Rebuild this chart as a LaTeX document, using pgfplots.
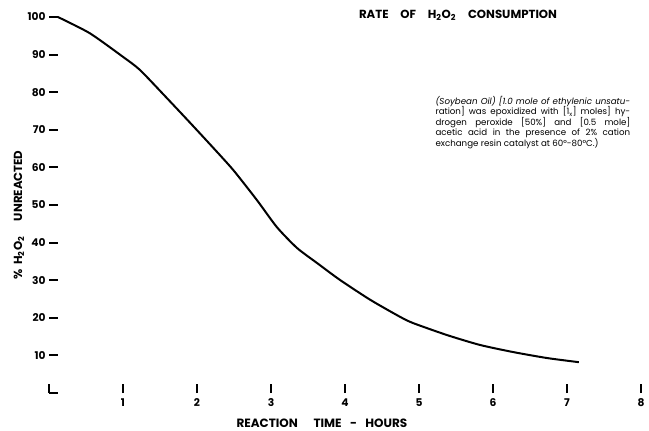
\documentclass[border=0pt]{standalone}
\usepackage{fontspec}
\setmainfont{Poppins}
\usepackage{pgfplots}
\pgfplotsset{compat=1.18}
\begin{document}
\begin{tikzpicture}[x=0.75pt,y=0.75pt]
\begin{axis}[
  at={(0,0)}, anchor=south west,
  scale only axis, width=444pt, height=282pt,
  xmin=0, xmax=8, ymin=0, ymax=100,
  enlargelimits=false,
  axis lines*=left,
  axis line style={draw=none},
  xtick={0,1,2,3,4,5,6,7,8},
  xticklabels={{},1,2,3,4,5,6,7,8},
  ytick={0,10,20,30,40,50,60,70,80,90,100},
  yticklabels={{},10,20,30,40,50,60,70,80,90,100},
  tick align=inside,
  major tick length=7pt,
  tick style={line width=1.6pt, black},
  ticklabel style={font=\bfseries\fontsize{8}{9}\selectfont},
  /pgf/number format/assume math mode=true,
  xticklabel style={yshift=-0.5pt},
  yticklabel style={xshift=1pt},
  title={\bfseries\fontsize{8.8}{10}\selectfont RATE\hspace{1em}OF\hspace{1em}H\textsubscript{2}O\textsubscript{2}\hspace{1em}CONSUMPTION},
  title style={at={(axis description cs:0.691,1.0)}, anchor=center, inner sep=0pt, yshift=-4.5pt},
  xlabel={\bfseries\fontsize{9}{10}\selectfont REACTION\hspace{1.3em}TIME\hspace{0.7em}-\hspace{0.7em}HOURS},
  xlabel style={at={(axis description cs:0.461,0)}, anchor=center, yshift=-22.5pt, inner sep=0pt},
  ylabel={\bfseries\fontsize{8.8}{10}\selectfont \%\hspace{0.4em}H\textsubscript{2}O\textsubscript{2}\hspace{1.3em}UNREACTED},
  ylabel style={at={(axis description cs:-0.051,0.473)}, anchor=center, inner sep=0pt},
  clip=false,
]
\addplot[black, line width=1.5pt, smooth, tension=0.4] coordinates {
  (0.12,100) (0.55,95.7) (1.0,89.4) (1.23,85.9) (1.59,78.5) (1.91,71.8)
  (2.22,65.2) (2.49,59.3) (2.81,51.3) (3.08,44.1) (3.35,38.6) (3.62,34.6)
  (3.93,30.1) (4.34,24.8) (4.74,20.3) (4.92,18.6) (5.38,15.4) (5.82,12.8)
  (6.27,10.9) (6.73,9.3) (7.16,8.2)
};
\node[anchor=north west, inner sep=0pt, text width=146pt, align=justify,
      font=\fontsize{6.5}{7.9}\selectfont] at (axis cs:5.22,79.0)
  {\itshape (Soybean Oil) [1.0 mole of ethylenic unsatu-\linebreak
   \upshape ration] was epoxidized with [1\textsubscript{x}] moles] hy-\linebreak
   drogen peroxide [50\%] and [0.5 mole]\linebreak
   acetic acid in the presence of 2\% cation\linebreak
   exchange resin catalyst at 60°-80°C.)};
\end{axis}
\pgfresetboundingbox
\path[use as bounding box] (-49,-37) rectangle (600,393);
\end{tikzpicture}
\end{document}
